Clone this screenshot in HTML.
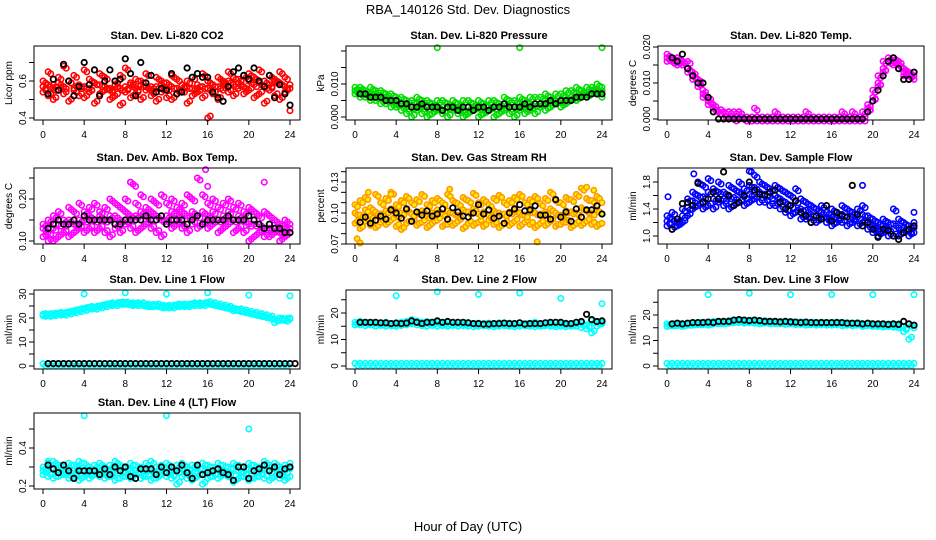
<!DOCTYPE html>
<html><head><meta charset="utf-8">
<style>
body{margin:0;background:#fff;}
svg{display:block;font-family:"Liberation Sans",sans-serif;}
</style></head>
<body>
<svg id="chart" width="936" height="540" viewBox="0 0 936 540" xmlns="http://www.w3.org/2000/svg">
<rect width="936" height="540" fill="#fff"/>
<text x="468" y="14" text-anchor="middle" font-size="13">RBA_140126  Std. Dev. Diagnostics</text>
<text x="468" y="531" text-anchor="middle" font-size="13">Hour of Day (UTC)</text>
</svg>
<script>
// Shared x tick labels
const xTicks=[0,4,8,12,16,20,24];
// Panel 1: CO2
const co2Upper=[0.60,0.65,0.58,0.62,0.68,0.60,0.63,0.57,0.66,0.61,0.59,0.64,0.62,0.56,0.60,0.63,0.67,0.58,0.61,0.60,0.64,0.57,0.62,0.60,0.59,0.63,0.61,0.58,0.60,0.62,0.56,0.64,0.60,0.58,0.62,0.60,0.65,0.62,0.61,0.63,0.64,0.62,0.66,0.60,0.63,0.61,0.65,0.62,0.58];
const co2Lower=[0.54,0.52,0.50,0.55,0.53,0.49,0.56,0.52,0.51,0.54,0.48,0.53,0.55,0.50,0.52,0.47,0.54,0.51,0.53,0.50,0.55,0.52,0.49,0.54,0.51,0.50,0.53,0.55,0.48,0.52,0.54,0.51,0.40,0.53,0.50,0.55,0.54,0.52,0.56,0.53,0.55,0.51,0.53,0.48,0.55,0.52,0.50,0.54,0.44];
const co2Mid=[0.57,0.58,0.56,0.59,0.57,0.60,0.55,0.58,0.57,0.56,0.59,0.58,0.57,0.55,0.58,0.56,0.57,0.59,0.56,0.58,0.57,0.55,0.57,0.58,0.56,0.57,0.56,0.55,0.57,0.56,0.58,0.57,0.56,0.58,0.57,0.59,0.60,0.58,0.59,0.57,0.60,0.58,0.59,0.57,0.58,0.60,0.59,0.57,0.56];
const co2Black=[0.53,0.61,0.55,0.69,0.60,0.52,0.57,0.70,0.58,0.66,0.52,0.60,0.66,0.60,0.61,0.72,0.64,0.52,0.70,0.59,0.63,0.54,0.56,0.55,0.64,0.53,0.54,0.67,0.62,0.64,0.62,0.62,0.54,0.51,0.49,0.57,0.65,0.67,0.63,0.61,0.67,0.60,0.57,0.63,0.51,0.58,0.53,0.47];
// Panel 2: Pressure
const presUpper=[0.009,0.009,0.008,0.009,0.008,0.008,0.007,0.007,0.006,0.006,0.005,0.005,0.006,0.005,0.005,0.004,0.005,0.005,0.004,0.005,0.004,0.005,0.005,0.004,0.005,0.004,0.005,0.005,0.004,0.006,0.005,0.005,0.006,0.005,0.006,0.006,0.006,0.007,0.006,0.007,0.007,0.008,0.008,0.009,0.008,0.009,0.009,0.010,0.009];
const presLower=[0.007,0.006,0.006,0.005,0.005,0.004,0.004,0.003,0.003,0.002,0.001,0.000,0.002,0.001,0.000,0.001,0.002,0.001,0.000,0.002,0.001,0.000,0.001,0.002,0.000,0.001,0.002,0.000,0.001,0.002,0.001,0.000,0.002,0.001,0.002,0.001,0.003,0.002,0.003,0.004,0.003,0.004,0.005,0.005,0.006,0.006,0.007,0.007,0.006];
const presMid=[0.008,0.008,0.007,0.007,0.007,0.006,0.006,0.005,0.004,0.004,0.003,0.003,0.004,0.003,0.003,0.003,0.003,0.002,0.003,0.003,0.003,0.002,0.003,0.003,0.003,0.002,0.003,0.003,0.003,0.004,0.003,0.003,0.004,0.003,0.004,0.004,0.004,0.005,0.005,0.005,0.005,0.006,0.006,0.007,0.007,0.007,0.008,0.008,0.008];
const presBlack=[0.007,0.007,0.006,0.006,0.006,0.005,0.005,0.005,0.004,0.004,0.003,0.003,0.004,0.003,0.003,0.003,0.002,0.003,0.003,0.002,0.003,0.003,0.002,0.003,0.003,0.002,0.003,0.003,0.004,0.003,0.003,0.003,0.004,0.003,0.004,0.004,0.004,0.005,0.004,0.005,0.005,0.005,0.006,0.006,0.006,0.007,0.007,0.007];
const presOutX=[8,16,24];
const presOutY=[0.021,0.021,0.021];
// Panel 3: Li-820 Temp
const tempUpper=[0.018,0.017,0.017,0.016,0.016,0.013,0.011,0.008,0.006,0.004,0.002,0.002,0.002,0.002,0.002,0.000,0.000,0.003,0.000,0.000,0.000,0.002,0.000,0.000,0.000,0.000,0.000,0.002,0.000,0.000,0.000,0.000,0.000,0.000,0.002,0.000,0.000,0.000,0.002,0.004,0.008,0.012,0.016,0.017,0.017,0.016,0.014,0.013,0.013];
const tempLower=[0.016,0.016,0.015,0.015,0.013,0.011,0.009,0.006,0.004,0.002,0.002,0.000,0.000,0.000,0.000,0.000,0.000,0.000,0.000,0.000,0.000,0.000,0.000,0.000,0.000,0.000,0.000,0.000,0.000,0.000,0.000,0.000,0.000,0.000,0.000,0.000,0.000,0.000,0.000,0.002,0.005,0.009,0.013,0.016,0.015,0.014,0.012,0.011,0.011];
const tempMid=[0.017,0.016,0.016,0.016,0.014,0.012,0.010,0.007,0.005,0.003,0.002,0.002,0.002,0.000,0.002,0.000,0.000,0.000,0.000,0.000,0.000,0.000,0.000,0.000,0.000,0.000,0.000,0.000,0.000,0.000,0.000,0.000,0.000,0.000,0.000,0.000,0.002,0.000,0.000,0.003,0.006,0.010,0.014,0.016,0.016,0.015,0.013,0.012,0.012];
const tempBlack=[0.017,0.016,0.018,0.014,0.012,0.010,0.010,0.006,0.002,0,0,0,0,0,0,0,0,0,0,0,0,0,0,0,0,0,0,0,0,0,0,0,0,0,0,0,0,0,0.002,0.005,0.008,0.012,0.016,0.017,0.014,0.011,0.011,0.013];
// Panel 4: Amb. Box Temp
const ambUpper=[0.14,0.15,0.16,0.17,0.15,0.18,0.17,0.19,0.17,0.18,0.19,0.17,0.18,0.20,0.19,0.18,0.20,0.24,0.19,0.21,0.18,0.20,0.19,0.21,0.19,0.20,0.18,0.19,0.21,0.20,0.25,0.21,0.19,0.20,0.18,0.19,0.20,0.18,0.19,0.17,0.18,0.17,0.16,0.17,0.16,0.15,0.14,0.15,0.14];
const ambLower=[0.11,0.10,0.10,0.11,0.12,0.11,0.12,0.13,0.12,0.13,0.12,0.13,0.12,0.11,0.13,0.12,0.14,0.13,0.12,0.13,0.14,0.13,0.12,0.11,0.14,0.13,0.14,0.13,0.12,0.14,0.13,0.14,0.13,0.14,0.12,0.13,0.14,0.12,0.13,0.12,0.10,0.11,0.12,0.11,0.11,0.12,0.10,0.11,0.12];
const ambMid=[0.13,0.12,0.13,0.14,0.14,0.15,0.14,0.15,0.15,0.16,0.15,0.16,0.15,0.16,0.16,0.15,0.17,0.16,0.16,0.17,0.16,0.17,0.16,0.15,0.16,0.17,0.16,0.17,0.16,0.17,0.16,0.17,0.16,0.17,0.15,0.16,0.17,0.15,0.16,0.15,0.14,0.14,0.14,0.13,0.13,0.13,0.12,0.13,0.13];
const ambBlack=[0.13,0.14,0.15,0.14,0.14,0.15,0.14,0.16,0.15,0.15,0.15,0.15,0.15,0.14,0.14,0.15,0.15,0.15,0.15,0.16,0.15,0.15,0.16,0.14,0.15,0.15,0.15,0.14,0.15,0.16,0.14,0.15,0.15,0.15,0.15,0.16,0.15,0.15,0.15,0.16,0.15,0.14,0.13,0.14,0.13,0.13,0.12,0.12];
const ambOutX=[8.5,9,15.8,16,21.5];
const ambOutY=[0.24,0.23,0.27,0.23,0.24];
// Panel 5: Gas Stream RH
const rhUpper=[0.108,0.112,0.115,0.105,0.118,0.110,0.114,0.120,0.108,0.112,0.116,0.110,0.113,0.118,0.108,0.112,0.114,0.110,0.118,0.112,0.109,0.115,0.112,0.119,0.110,0.113,0.108,0.114,0.117,0.110,0.112,0.115,0.118,0.110,0.113,0.116,0.109,0.114,0.120,0.112,0.110,0.115,0.113,0.118,0.124,0.114,0.112,0.116,0.110];
const rhLower=[0.090,0.085,0.092,0.088,0.086,0.091,0.089,0.093,0.087,0.084,0.090,0.092,0.088,0.091,0.086,0.090,0.093,0.087,0.089,0.088,0.092,0.085,0.090,0.088,0.091,0.087,0.093,0.089,0.086,0.090,0.088,0.092,0.087,0.091,0.089,0.086,0.090,0.088,0.092,0.087,0.089,0.091,0.086,0.090,0.088,0.092,0.089,0.087,0.090];
const rhMid=[0.100,0.098,0.103,0.097,0.101,0.099,0.102,0.104,0.098,0.100,0.103,0.099,0.101,0.102,0.097,0.100,0.103,0.099,0.102,0.100,0.098,0.103,0.101,0.104,0.099,0.101,0.098,0.102,0.100,0.099,0.101,0.103,0.100,0.098,0.102,0.100,0.099,0.101,0.104,0.100,0.098,0.102,0.101,0.100,0.105,0.102,0.100,0.103,0.099];
const rhBlack=[0.091,0.096,0.090,0.093,0.097,0.094,0.103,0.100,0.095,0.104,0.092,0.101,0.098,0.102,0.097,0.099,0.104,0.094,0.105,0.101,0.097,0.096,0.100,0.108,0.099,0.103,0.095,0.097,0.090,0.100,0.104,0.108,0.102,0.103,0.107,0.098,0.098,0.094,0.113,0.096,0.101,0.092,0.104,0.096,0.103,0.103,0.107,0.099];
const rhOutX=[0.2,0.5,1.3,3.5,9.2,17.7,22.5,23.2];
const rhOutY=[0.075,0.071,0.120,0.118,0.123,0.072,0.125,0.122];
// Panel 6: Sample Flow
const flowUpper=[1.30,1.35,1.25,1.40,1.55,1.65,1.80,1.75,1.85,1.70,1.80,1.65,1.75,1.70,1.80,1.70,1.75,1.90,1.80,1.75,1.70,1.75,1.70,1.65,1.60,1.70,1.55,1.50,1.45,1.40,1.45,1.35,1.40,1.35,1.45,1.40,1.35,1.40,1.45,1.30,1.25,1.20,1.25,1.20,1.40,1.25,1.20,1.15,1.20];
const flowLower=[1.15,1.10,1.15,1.20,1.30,1.40,1.45,1.40,1.45,1.40,1.50,1.45,1.40,1.45,1.50,1.45,1.50,1.55,1.50,1.50,1.45,1.45,1.40,1.35,1.30,1.35,1.25,1.25,1.20,1.20,1.25,1.20,1.15,1.20,1.20,1.15,1.20,1.15,1.20,1.10,1.05,1.00,1.05,1.00,1.00,1.00,1.05,1.00,1.05];
const flowMid=[1.22,1.25,1.20,1.30,1.42,1.52,1.60,1.58,1.65,1.55,1.65,1.55,1.58,1.57,1.65,1.58,1.62,1.72,1.65,1.62,1.58,1.60,1.55,1.50,1.45,1.52,1.40,1.38,1.32,1.30,1.35,1.28,1.28,1.28,1.32,1.28,1.28,1.28,1.32,1.20,1.15,1.10,1.15,1.10,1.18,1.12,1.12,1.08,1.12];
const flowBlack=[1.10,1.25,1.48,1.50,1.45,1.78,1.50,1.55,1.65,1.55,1.95,1.60,1.45,1.50,1.60,1.80,1.68,1.62,1.60,1.65,1.68,1.50,1.40,1.45,1.52,1.35,1.30,1.20,1.30,1.25,1.45,1.22,1.35,1.30,1.28,1.75,1.32,1.15,1.20,1.10,0.98,1.10,1.08,1.00,0.95,1.05,1.10,1.15];
const flowOutX=[0.1,2.6,8.0,8.2,19.0,24.0];
const flowOutY=[1.58,1.92,1.96,1.95,1.75,1.35];
// Shared baseline level for line flows
const lineZero=[1,1,1,1,1,1,1,1,1,1,1,1,1,1,1,1,1,1,1,1,1,1,1,1,1,1,1,1,1,1,1,1,1,1,1,1,1,1,1,1,1,1,1,1,1,1,1,1,1];
// Panel 7: Line 1 Flow
const l1Upper=[21.5,21.5,21.8,22,22,22.5,23,23.5,24,24.5,24.5,25,25.5,26,26,26.5,26.5,26,26,26,25.5,25.5,25.5,25,25,25,25.5,25.5,25.5,26,26,26,26.5,26,25.5,25,24.5,24,23.5,23,22.5,22,21.5,21,20.5,19.5,20,19.5,20];
const l1Lower=[21,21,21.2,21.5,21.5,22,22.5,23,23.5,24,24,24.5,25,25.5,25.5,25.8,25.8,25.5,25.5,25.5,25,24.8,25,24.5,24.5,24.5,25,25,25,25.5,25.5,25.5,26,25.5,25,24.5,24,23,23,22.5,22,21.5,21,20.5,20,18,19,19,19.5];
const l1OutX=[4,8,12,16,20,24];
const l1OutY=[30,30.5,30,30.5,29.5,29.2];
// Panel 8: Line 2 Flow
const l2Upper=[16.5,16.8,16.5,16.3,16.5,16.2,16.5,16.0,16.3,16.5,16.8,17.5,17,16.5,16.8,16.5,16.5,16.2,16.5,16.3,16.5,16.2,16.4,16.0,16.2,16.0,16.2,16.0,16.3,16.0,16.2,16.0,16.3,16.0,16.2,16.5,16.0,16.2,16.0,16.5,16.0,16.2,16.0,16.5,16.2,15.5,17.0,16.5,16.5];
const l2Lower=[15.5,15.5,15.2,15.5,15.0,15.3,15.0,15.2,15.0,15.3,15.5,16.0,15.5,15.2,15.0,15.3,15.0,15.2,15.0,15.3,15.0,15.2,15.0,14.8,15.0,15.2,15.0,14.8,15.0,15.2,15.0,14.8,15.0,15.2,15.0,14.8,15.0,15.2,15.0,14.8,15.0,14.8,15.0,15.0,14.5,14.0,12.5,15.0,16.0];
const l2Black=[16.5,16.5,16.5,16.5,16.3,16.3,16.0,16.2,16.0,16.2,17.0,16.5,16.0,16.5,16.5,17.0,16.5,16.8,16.5,16.5,16.5,16.3,16.0,16.0,15.8,15.8,16.0,16.0,16.2,16.0,16.0,16.3,15.8,16.0,16.0,16.0,16.3,16.5,16.5,16.5,16.0,16.0,16.5,16.8,19.5,17.5,16.8,17.0];
const l2OutX=[4,8,12,16,20,24];
const l2OutY=[26.5,28,27,27.5,25.5,23.5];
// Panel 9: Line 3 Flow
const l3Upper=[16.5,16.5,16.8,16.5,16.8,17,17,17.2,17,17.5,17.5,17.5,17.8,18,18,17.8,18,17.8,17.5,17.8,17.5,17.5,17.5,17.3,17.5,17.2,17.3,17.0,17.2,17.0,17.2,17.0,17.0,17.2,16.8,17.0,16.8,17.0,16.5,16.8,16.5,16.5,16.3,16.5,16.2,16.5,15.5,16.5,16.0];
const l3Lower=[15.5,15.8,15.8,15.5,16.0,16.0,16.2,16.2,16.0,16.5,16.5,16.5,16.8,17,17,16.8,17,16.8,16.5,16.8,16.5,16.5,16.5,16.3,16.5,16.2,16.3,16.0,16.2,16.0,16.2,16.0,16.0,16.2,15.8,16.0,15.8,16.0,15.5,15.8,15.5,15.5,15.3,15.5,15.2,15.0,13.5,10.5,15.0];
const l3Black=[16.5,16.8,16.5,16.8,17.0,17.0,17.0,17.2,17.0,17.5,17.5,17.5,18.0,18.2,18.0,17.8,18.0,17.8,17.5,17.5,17.5,17.3,17.5,17.3,17.2,17.0,17.2,17.0,17.0,17.0,17.0,17.0,17.0,17.0,16.8,16.8,16.8,16.5,16.8,16.5,16.5,16.5,16.3,16.5,16.3,17.5,16.5,16.0];
const l3OutX=[4,8,12,16,20,24];
const l3OutY=[28,28.5,28,28,28,28];
// Panel 10: Line 4 (LT) Flow
const l4Upper=[0.30,0.32,0.33,0.31,0.30,0.32,0.31,0.33,0.32,0.30,0.31,0.32,0.30,0.31,0.33,0.31,0.30,0.32,0.31,0.30,0.32,0.33,0.30,0.31,0.32,0.30,0.31,0.32,0.30,0.31,0.30,0.32,0.31,0.30,0.32,0.31,0.30,0.32,0.31,0.30,0.32,0.31,0.30,0.33,0.31,0.32,0.30,0.31,0.32];
const l4Lower=[0.26,0.25,0.24,0.25,0.26,0.24,0.25,0.23,0.25,0.24,0.26,0.25,0.24,0.25,0.23,0.24,0.25,0.24,0.26,0.24,0.25,0.23,0.24,0.26,0.25,0.24,0.21,0.25,0.24,0.23,0.25,0.21,0.24,0.25,0.24,0.26,0.25,0.22,0.24,0.25,0.23,0.24,0.25,0.24,0.23,0.25,0.24,0.23,0.25];
const l4Mid=[0.28,0.28,0.29,0.28,0.27,0.28,0.28,0.29,0.28,0.27,0.28,0.29,0.27,0.28,0.29,0.28,0.27,0.28,0.28,0.27,0.29,0.28,0.27,0.28,0.29,0.27,0.28,0.29,0.27,0.28,0.27,0.29,0.28,0.27,0.29,0.28,0.27,0.29,0.28,0.27,0.29,0.28,0.27,0.29,0.28,0.29,0.27,0.28,0.29];
const l4Black=[0.31,0.29,0.27,0.31,0.28,0.24,0.28,0.28,0.28,0.28,0.26,0.29,0.26,0.30,0.28,0.30,0.25,0.24,0.29,0.29,0.29,0.26,0.30,0.27,0.30,0.28,0.31,0.27,0.24,0.31,0.26,0.27,0.28,0.29,0.27,0.26,0.23,0.30,0.30,0.24,0.28,0.29,0.31,0.28,0.30,0.26,0.29,0.30];
const l4OutX=[4,12,20,0.5];
const l4OutY=[0.57,0.57,0.50,0.33];

const NS='http://www.w3.org/2000/svg';
const svg=document.getElementById('chart');
const cols=[{x0:43,x24:290},{x0:355,x24:602},{x0:667,x24:914}];
const rows=[{t:46,b:120},{t:168,b:244},{t:290,b:369},{t:413,b:489}];

function mk(tag,attrs,parent){const e=document.createElementNS(NS,tag);for(const k in attrs)e.setAttribute(k,attrs[k]);(parent||svg).appendChild(e);return e;}

const panels=[
 {name:'co2',title:'Stan. Dev. Li-820 CO2',ylab:'Licor ppm',c:0,r:0,ref:[0.4,118,0.6,81],ticks:[0.4,0.5,0.6,0.7],labels:[[0.4,'0.4'],[0.6,'0.6']],color:'#ff0000',series:[co2Upper,co2Lower,co2Mid],black:co2Black},
 {name:'pressure',title:'Stan. Dev. Li-820 Pressure',ylab:'kPa',c:1,r:0,ref:[0,117,0.01,84],ticks:[0,0.005,0.01,0.015,0.02],labels:[[0,'0.000'],[0.01,'0.010']],color:'#00dd00',series:[presUpper,presLower,presMid],black:presBlack,outX:presOutX,outY:presOutY},
 {name:'temp',title:'Stan. Dev. Li-820 Temp.',ylab:'degrees C',c:2,r:0,ref:[0,119,0.02,47],ticks:[0,0.005,0.01,0.015,0.02],labels:[[0,'0.000'],[0.01,'0.010'],[0.02,'0.020']],color:'#ff00ff',series:[tempUpper,tempLower,tempMid],black:tempBlack},
 {name:'amb-temp',title:'Stan. Dev. Amb. Box Temp.',ylab:'degrees C',c:0,r:1,ref:[0.1,241,0.2,199],ticks:[0.1,0.15,0.2,0.25],labels:[[0.1,'0.10'],[0.2,'0.20']],color:'#ff00ff',series:[ambUpper,ambLower,ambMid],black:ambBlack,outX:ambOutX,outY:ambOutY},
 {name:'rh',title:'Stan. Dev. Gas Stream RH',ylab:'percent',c:1,r:1,ref:[0.07,244,0.13,182],ticks:[0.07,0.08,0.09,0.10,0.11,0.12,0.13,0.14],labels:[[0.07,'0.07'],[0.10,'0.10'],[0.13,'0.13']],color:'#ff9900',fill:'#ffee00',series:[rhUpper,rhLower,rhMid],black:rhBlack,outX:rhOutX,outY:rhOutY},
 {name:'sample-flow',title:'Stan. Dev. Sample Flow',ylab:'ml/min',c:2,r:1,ref:[1.0,236,1.8,182],ticks:[1.0,1.2,1.4,1.6,1.8],labels:[[1.0,'1.0'],[1.4,'1.4'],[1.8,'1.8']],color:'#0000ff',series:[flowUpper,flowLower,flowMid],black:flowBlack,outX:flowOutX,outY:flowOutY},
 {name:'line1',title:'Stan. Dev. Line 1 Flow',ylab:'ml/min',c:0,r:2,ref:[0,366,30,294],ticks:[0,5,10,15,20,25,30],labels:[[0,'0'],[10,'10'],[20,'20'],[30,'30']],color:'#00ffff',series:[l1Upper,l1Lower,lineZero],black:lineZero,outX:l1OutX,outY:l1OutY},
 {name:'line2',title:'Stan. Dev. Line 2 Flow',ylab:'ml/min',c:1,r:2,ref:[0,366,20,313],ticks:[0,5,10,15,20,25],labels:[[0,'0'],[10,'10'],[20,'20']],color:'#00ffff',series:[l2Upper,l2Lower,lineZero],black:l2Black,outX:l2OutX,outY:l2OutY},
 {name:'line3',title:'Stan. Dev. Line 3 Flow',ylab:'ml/min',c:2,r:2,ref:[0,366,20,315],ticks:[0,5,10,15,20,25],labels:[[0,'0'],[10,'10'],[20,'20']],color:'#00ffff',series:[l3Upper,l3Lower,lineZero],black:l3Black,outX:l3OutX,outY:l3OutY},
 {name:'line4',title:'Stan. Dev. Line 4 (LT) Flow',ylab:'ml/min',c:0,r:3,ref:[0.2,486,0.4,448],ticks:[0.2,0.3,0.4,0.5],labels:[[0.2,'0.2'],[0.4,'0.4']],color:'#00ffff',series:[l4Upper,l4Lower,l4Mid],black:l4Black,outX:l4OutX,outY:l4OutY}
];

panels.forEach(p=>{
  const col=cols[p.c], row=rows[p.r];
  const L=col.x0-9, R=col.x24+10, T=row.t, B=row.b;
  const xs=h=>col.x0+(col.x24-col.x0)*h/24;
  const ys=v=>p.ref[1]+(v-p.ref[0])*(p.ref[3]-p.ref[1])/(p.ref[2]-p.ref[0]);
  const g=mk('g',{});
  
  
  const t=mk('text',{x:(L+R)/2,y:T-7,'text-anchor':'middle','font-size':'11','font-weight':'bold'},g);
  t.textContent=p.title;
  
  
  const yl=mk('text',{x:0,y:0,'text-anchor':'middle','font-size':'10',transform:`translate(${L-22},${(T+B)/2}) rotate(-90)`},g);
  yl.textContent=p.ylab;
  
  
  // points
  const pts=mk('g',{fill:p.fill||'none',stroke:p.color,'stroke-width':'1.6'},g);
  
  
  p.series.forEach((arr,si)=>{
    arr.forEach((v,i)=>{
      const h=i*24/(arr.length-1);
      const c=mk('circle',{cx:xs(h).toFixed(1),cy:ys(v).toFixed(1),r:2.7},pts);
      
      
      if(i<arr.length-1){
        const c2=mk('circle',{cx:(xs(h)+2.6).toFixed(1),cy:(ys(v)+(si%2?-2:2)).toFixed(1),r:2.7},pts);
        
        
      }
    });
  });
  if(p.outX){p.outX.forEach((h,i)=>{
    const c=mk('circle',{cx:xs(h).toFixed(1),cy:ys(p.outY[i]).toFixed(1),r:2.7},pts);
    
    
  });}
  const bk=mk('g',{fill:'none',stroke:'#000','stroke-width':'1.8'},g);
  
  
  p.black.forEach((v,i)=>{
    const c=mk('circle',{cx:xs(0.5+i*0.5).toFixed(1),cy:ys(v).toFixed(1),r:2.7},bk);
    
    
  });
  const box=mk('rect',{x:L,y:T,width:R-L,height:B-T,fill:'none',stroke:'#000','stroke-width':'1'},g);
  
  
  const ax=mk('g',{stroke:'#000','stroke-width':'1'},g);
  
  
  mk('line',{x1:xs(0),x2:xs(24),y1:B,y2:B},ax);
  xTicks.forEach(h=>{
    mk('line',{x1:xs(h),x2:xs(h),y1:B,y2:B+5},ax);
    const tl=mk('text',{x:xs(h),y:B+18,'text-anchor':'middle','font-size':'10',stroke:'none',fill:'#000'},g);
    tl.textContent=h;
    
    
  });
  const ay=mk('g',{stroke:'#000','stroke-width':'1'},g);
  
  
  p.ticks.forEach(v=>{mk('line',{x1:L-5,x2:L,y1:ys(v),y2:ys(v)},ay);});
  p.labels.forEach(([v,s])=>{
    const tl=mk('text',{x:0,y:0,'text-anchor':'middle','font-size':'10',transform:`translate(${L-8},${ys(v)}) rotate(-90)`},g);
    tl.textContent=s;
    
    
  });
});
</script>
</body></html>
